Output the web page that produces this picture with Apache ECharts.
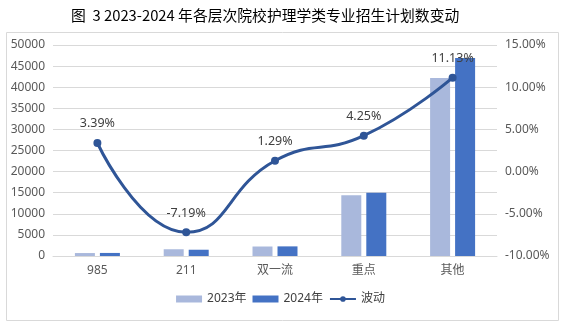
<!DOCTYPE html>
<html><head><meta charset="utf-8">
<script src="https://cdn.jsdelivr.net/npm/echarts@6/dist/echarts.min.js"></script>
<style>html,body{margin:0;padding:0;background:#fff}#c{width:561px;height:324px}</style>
</head><body><div id="c"></div>
<script>
const categories = ['985', '211', '双一流', '重点', '其他'];
const plan2023 = [700, 1600, 2250, 14400, 42200];
const plan2024 = [724, 1485, 2280, 15010, 46900];
const change = [3.39, -7.19, 1.29, 4.25, 11.13];
const leftTicks = {min: 0, max: 50000, interval: 5000};
const rightTicks = {min: -10, max: 15, interval: 5};

const font = "'Noto Sans', 'Noto Sans CJK SC', sans-serif";
const chart = echarts.init(document.getElementById('c'));
chart.setOption({
  animation: false,
  textStyle: {fontFamily: font},
  title: {
    text: '图  3 2023-2024 年各层次院校护理学类专业招生计划数变动',
    left: 66, top: 3,
    textStyle: {fontSize: 14.8, fontWeight: 'normal', color: '#000', fontFamily: "'Noto Sans CJK SC', sans-serif"}
  },
  graphic: [{
    type: 'rect', left: 4, top: 30, silent: true, z: -1,
    shape: {width: 552, height: 288},
    style: {fill: 'none', stroke: '#D9D9D9', lineWidth: 1}
  }],
  legend: {
    bottom: 14, left: 'center', itemGap: 6,
    textStyle: {fontSize: 12, color: '#404040', fontFamily: font},
    data: [
      {name: '2023年', icon: 'rect'},
      {name: '2024年', icon: 'rect'},
      {name: '波动'}
    ],
    itemWidth: 26, itemHeight: 7
  },
  grid: {left: 53, right: 64, top: 45, bottom: 68},
  xAxis: {
    type: 'category', data: categories,
    axisTick: {show: false},
    axisLine: {lineStyle: {color: '#D9D9D9'}},
    axisLabel: {color: '#595959', fontSize: 12, margin: 9}
  },
  yAxis: [{
    type: 'value', min: leftTicks.min, max: leftTicks.max, interval: leftTicks.interval,
    axisLabel: {color: '#595959', fontSize: 12, formatter: v => String(v)},
    splitLine: {lineStyle: {color: '#D9D9D9'}},
    axisLine: {show: false}, axisTick: {show: false}
  }, {
    type: 'value', min: rightTicks.min, max: rightTicks.max, interval: rightTicks.interval,
    axisLabel: {color: '#595959', fontSize: 12, formatter: v => v.toFixed(2) + '%', margin: 8},
    splitLine: {show: false},
    axisLine: {show: false}, axisTick: {show: false}
  }],
  series: [{
    name: '2023年', type: 'bar', data: plan2023, barWidth: 20, barGap: '25%',
    itemStyle: {color: '#A9B8DC'}
  }, {
    name: '2024年', type: 'bar', data: plan2024, barWidth: 20,
    itemStyle: {color: '#4472C4'}
  }, {
    name: '波动', type: 'line', yAxisIndex: 1, data: change, smooth: 0.5,
    symbol: 'circle', symbolSize: 8,
    lineStyle: {width: 3, color: '#2F5597'},
    itemStyle: {color: '#2F5597'},
    label: {show: true, position: 'top', distance: 9, color: '#404040', fontSize: 12.5,
      formatter: p => p.value.toFixed(2) + '%'}
  }]
});
</script></body></html>
